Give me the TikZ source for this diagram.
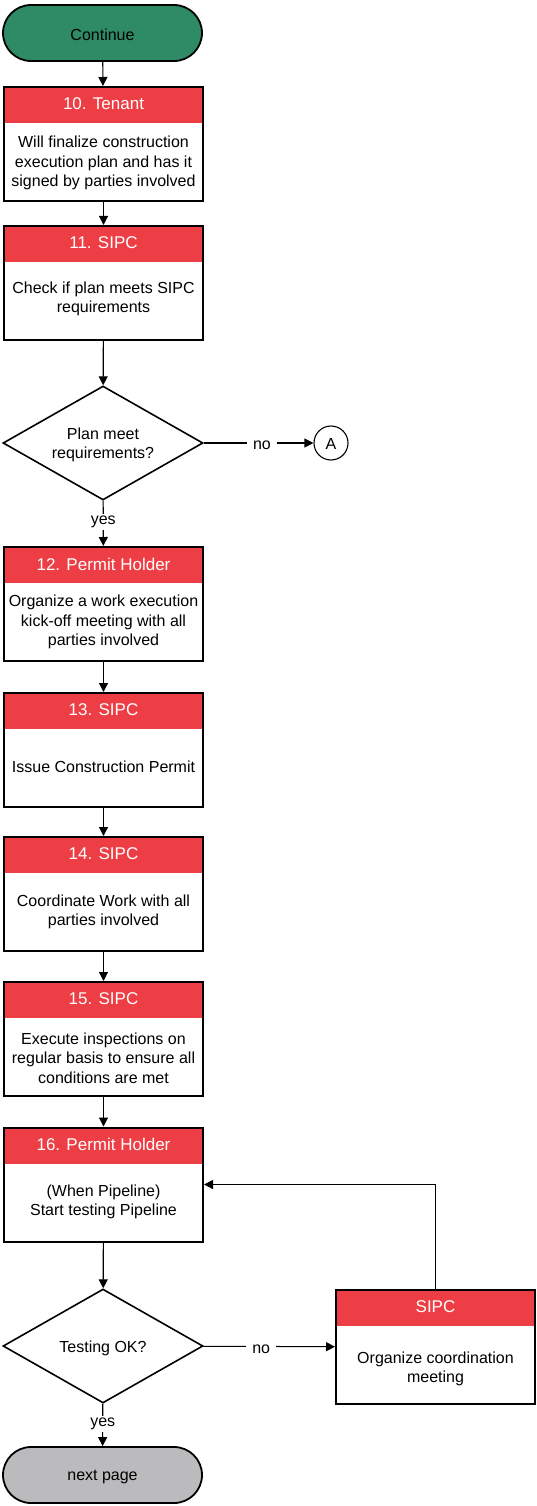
\documentclass[tikz,border=0pt]{standalone}
\usepackage{fontspec}
\setmainfont{Liberation Sans}
\usetikzlibrary{shapes.geometric,arrows.meta}
\definecolor{termgreen}{HTML}{2E8B66}
\definecolor{hdrred}{HTML}{EE3E45}
\definecolor{termgray}{HTML}{BBBBBD}
\tikzset{
  every node/.style={font=\fontsize{16}{19.5}\selectfont, inner sep=0pt},
  stepbox/.style={draw=black, line width=2pt, fill=white, minimum width=199pt, minimum height=114pt,
    path picture={\fill[hdrred] (path picture bounding box.north west) rectangle ([yshift=-36pt]path picture bounding box.north east);}},
  hdrtext/.style={text=white, font=\fontsize{17}{20}\selectfont},
  bodytext/.style={align=center, text=black},
  term/.style={draw=black, line width=1.8pt, rounded corners=28pt, minimum width=199pt, minimum height=56pt},
  decision/.style={diamond, draw=black, line width=1.6pt, fill=white, minimum width=200pt, minimum height=114pt, inner sep=0pt, aspect=1.75},
  conn/.style={draw=black, line width=1.1pt, -{Triangle[length=9pt,width=9pt]}},
  lbl/.style={fill=white, inner xsep=6pt, inner ysep=2pt, yshift=-2.5pt},
}
\begin{document}
\begin{tikzpicture}[x=1pt,y=-1pt]
\useasboundingbox (0,0) rectangle (536,1506);

% terminals
\node[term, fill=termgreen] (cont) at (102.5,33) {};
\node[bodytext] (tcont) at (102.5,34.5) {Continue};
\node[term, fill=termgray] (next) at (102.5,1475) {};
\node[bodytext] (tnext) at (102.5,1476.5) {next page};

% step boxes
\node[stepbox] (b10) at (103.5,144) {};
\node[hdrtext] (h10) at (103.5,104) {10. Tenant};
\node[bodytext] (t10) at (103.5,163) {Will finalize construction\\execution plan and has it\\signed by parties involved};

\node[stepbox] (b11) at (103.5,283) {};
\node[hdrtext] (h11) at (103.5,243) {11. SIPC};
\node[bodytext] (t11) at (103.5,299) {Check if plan meets SIPC\\requirements};

\node[decision] (d1) at (103,443) {};
\node[bodytext] (td1) at (103,445) {Plan meet\\requirements?};
\node[circle, draw=black, line width=1.1pt, minimum size=34pt] (A) at (331,443) {};
\node[bodytext] (tA) at (331,444) {A};

\node[stepbox] (b12) at (103.5,604) {};
\node[hdrtext] (h12) at (103.5,564) {12. Permit Holder};
\node[bodytext] (t12) at (103.5,622) {Organize a work execution\\kick-off meeting with all\\parties involved};

\node[stepbox] (b13) at (103.5,750) {};
\node[hdrtext] (h13) at (103.5,710) {13. SIPC};
\node[bodytext] (t13) at (103.5,767) {Issue Construction Permit};

\node[stepbox] (b14) at (103.5,894) {};
\node[hdrtext] (h14) at (103.5,854) {14. SIPC};
\node[bodytext] (t14) at (103.5,912) {Coordinate Work with all\\parties involved};

\node[stepbox] (b15) at (103.5,1039) {};
\node[hdrtext] (h15) at (103.5,999) {15. SIPC};
\node[bodytext] (t15) at (103.5,1058) {Execute inspections on\\regular basis to ensure all\\conditions are met};

\node[stepbox] (b16) at (103.5,1184.5) {};
\node[hdrtext] (h16) at (103.5,1144.5) {16. Permit Holder};
\node[bodytext] (t16) at (103.5,1202) {(When Pipeline)\\Start testing Pipeline};

\node[decision] (d2) at (103,1346) {};
\node[bodytext] (td2) at (103,1348) {Testing OK?};

\node[stepbox] (bs) at (435.5,1347) {};
\node[hdrtext] (hs) at (435.5,1307) {SIPC};
\node[bodytext] (ts) at (435.5,1369) {Organize coordination\\meeting};

% connectors
\draw[conn] (cont) -- (b10);
\draw[conn] (b10) -- (b11);
\draw[conn] (b11) -- (d1);
\draw[conn] (d1) -- node[lbl, pos=0.53] (no1) {no} (A);
\draw[conn] (d1) -- node[lbl, pos=0.42] (yes1) {yes} (b12);
\draw[conn] (b12) -- (b13);
\draw[conn] (b13) -- (b14);
\draw[conn] (b14) -- (b15);
\draw[conn] (b15) -- (b16);
\draw[conn] (b16) -- (d2);
\draw[conn] (d2) -- node[lbl, pos=0.44] (no2) {no} (bs);
\draw[conn] (d2) -- node[lbl, pos=0.42] (yes2) {yes} (next);
\draw[conn] (bs.north) |- (b16.east);
\end{tikzpicture}
\end{document}
